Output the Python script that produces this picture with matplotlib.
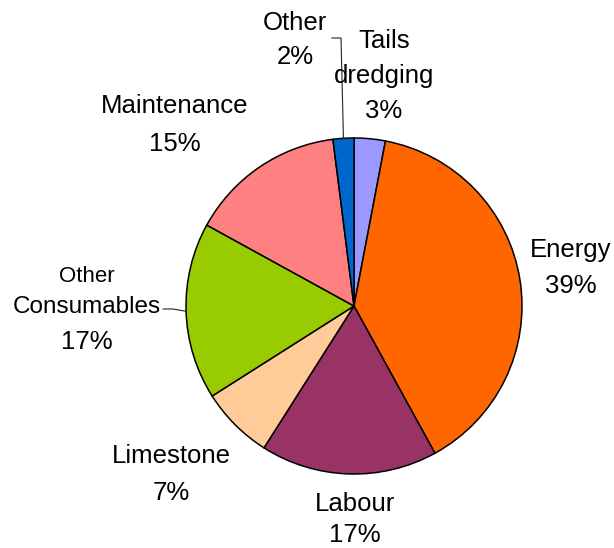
import numpy as np
import matplotlib
matplotlib.use("Agg")
import matplotlib.pyplot as plt

plt.rcParams['font.family'] = ['Liberation Sans', 'DejaVu Sans']

# cost breakdown, clockwise from 12 o'clock
labels = ["Tails\ndredging", "Energy", "Labour", "Limestone",
          "Other\nConsumables", "Maintenance", "Other"]
shares = [3, 39, 17, 7, 17, 15, 2]
colors = ["#9999FF", "#FF6600", "#993366", "#FFCC99",
          "#99CC00", "#FF8080", "#0066CC"]

W, H = 614, 548
cx, cy, r = 354, 306, 168   # pie centre / radius in pixels from top-left

# label placement (pixels from top-left): centre x and baseline of each line
label_x = [384, 571, 355, 171, 87, 175, 295]
label_base = [[48, 83, 118], [257, 293], [511, 542], [463, 500],
              [282, 313, 349], [113, 151], [30, 64]]
label_size = [[18.5] * 3, [18.5] * 2, [18.5] * 2, [18.5] * 2,
              [16, 17.5, 18.5], [18.5] * 2, [18.5] * 2]
# elbow of leader lines for labels sitting away from their wedge
leaders = {6: [(332, 38), (341, 38)], 4: [(163, 309), (173, 309)]}

fig = plt.figure(figsize=(W / 100, H / 100), dpi=100)
ax = fig.add_axes([0, 0, 1, 1])

wedges, _ = ax.pie(shares, colors=colors, startangle=90, counterclock=False,
                   center=(cx, H - cy), radius=r,
                   wedgeprops=dict(edgecolor="black", linewidth=1.1))

for i, lab in enumerate(labels):
    lines = lab.split("\n") + [f"{shares[i]}%"]
    for line, yb, fs in zip(lines, label_base[i], label_size[i]):
        ax.text(label_x[i], H - yb, line, ha="center", va="baseline",
                fontsize=fs, color="black")

for i, pts in leaders.items():
    w = wedges[i]
    mid = np.deg2rad((w.theta1 + w.theta2) / 2)
    ex, ey = cx + r * np.cos(mid), (H - cy) + r * np.sin(mid)
    xs = [p[0] for p in pts] + [ex]
    ys = [H - p[1] for p in pts] + [ey]
    ax.plot(xs, ys, color="#222222", lw=0.8)

ax.set_xlim(0, W)
ax.set_ylim(0, H)
ax.set_aspect("equal")
ax.axis("off")

fig.savefig("out.png", dpi=100, facecolor="white")
